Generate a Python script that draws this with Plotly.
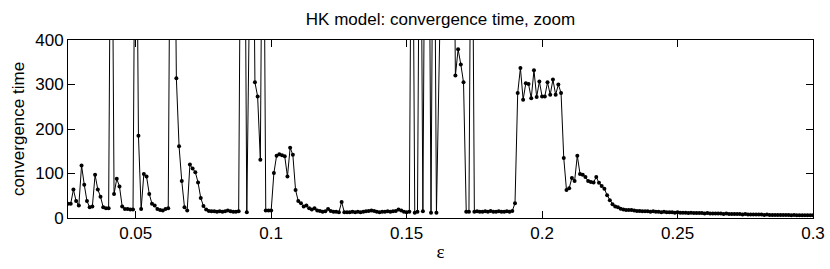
import plotly.graph_objects as go

# epsilon grid: 0.025 .. 0.300, step 0.001 (276 samples)
eps_start = 0.025
eps_step = 0.001

OFF = 1000  # values that leave the visible range (clipped at 400)

conv_time = [
    32, 32, 64, 38, 28, 118, 75, 38, 24, 26,            # 0.025-0.034
    97, 64, 48, 24, 22, 22, OFF, 54, 88, 71,            # 0.035-0.044
    26, 20, 20, 19, 19, OFF, 185, 20, 99, 93,           # 0.045-0.054
    54, 32, 28, 20, 18, 17, 20, 22, OFF, OFF,           # 0.055-0.064
    314, 161, 83, 24, 17, 120, 111, 103, 80, 45,        # 0.065-0.074
    27, 19, 16, 15, 15, 14, 15, 14, 15, 17,             # 0.075-0.084
    15, 14, 14, 15, OFF, OFF, 13, OFF, OFF, 305,        # 0.085-0.094
    273, 131, OFF, 17, 17, 17, 101, 140, 143, 141,      # 0.095-0.104
    139, 93, 158, 142, 63, 38, 33, 26, 28, 22,          # 0.105-0.114
    19, 22, 17, 16, 14, 15, 20, 16, 14, 14,             # 0.115-0.124
    13, 36, 13, 13, 13, 14, 13, 14, 13, 14,             # 0.125-0.134
    15, 16, 17, 16, 14, 13, 14, 14, 15, 14,             # 0.135-0.144
    15, 16, 19, 17, 14, 13, 14, OFF, 12, 14,            # 0.145-0.154
    OFF, 15, OFF, OFF, 12, OFF, 12, OFF, OFF, OFF,      # 0.155-0.164
    OFF, OFF, OFF, 320, 379, 345, 305, 14, 14, OFF,     # 0.165-0.174
    14, 15, 14, 14, 15, 14, 16, 14, 14, 15,             # 0.175-0.184
    14, 14, 15, 14, 16, 33, 281, 337, 266, 303,         # 0.185-0.194
    301, 269, 332, 272, 307, 273, 273, 305, 277, 311,   # 0.195-0.204
    277, 300, 281, 135, 63, 67, 90, 83, 140, 99,        # 0.205-0.214
    97, 92, 83, 81, 80, 92, 79, 72, 66, 51,             # 0.215-0.224
    40, 31, 26, 24, 21, 19, 18, 18, 18, 17,             # 0.225-0.234
    16, 16, 15, 15, 15, 14, 15, 14, 14, 13,             # 0.235-0.244
    14, 13, 13, 13, 12, 13, 12, 12, 12, 11,             # 0.245-0.254
    12, 11, 11, 11, 11, 10, 11, 10, 10, 10,             # 0.255-0.264
    10, 10, 9, 10, 9, 9, 9, 9, 9, 8,                    # 0.265-0.274
    9, 8, 8, 8, 8, 8, 8, 7, 8, 7,                       # 0.275-0.284
    7, 7, 7, 7, 7, 7, 7, 6, 7, 6,                       # 0.285-0.294
    6, 6, 6, 6, 6, 6,                                   # 0.295-0.300
]

eps = [round(eps_start + i * eps_step, 3) for i in range(len(conv_time))]

x_tick_vals = [0.05, 0.1, 0.15, 0.2, 0.25, 0.3]
x_tick_text = ["0.05", "0.1", "0.15", "0.2", "0.25", "0.3"]
y_tick_vals = [0, 100, 200, 300, 400]

title_text = "HK model: convergence time, zoom"
x_title = "ε"
y_title = "convergence time"

FONT = "Liberation Sans, Arial, sans-serif"

fig = go.Figure()
fig.add_trace(go.Scatter(
    x=eps, y=conv_time, mode="lines+markers",
    line=dict(color="black", width=1),
    marker=dict(color="black", size=4),
    showlegend=False,
))

axis_common = dict(
    showline=True, linecolor="black", linewidth=1, mirror="ticks",
    ticks="inside", ticklen=7, tickwidth=1, tickcolor="black",
    showgrid=False, zeroline=False, automargin=False,
    tickfont=dict(family=FONT, size=17, color="black"),
)

fig.update_layout(
    width=830, height=269,
    margin=dict(l=68, r=17, t=40, b=51),
    paper_bgcolor="white", plot_bgcolor="white",
    font=dict(family=FONT, size=17, color="black"),
    title=dict(text=title_text, x=0.5, xanchor="center", xref="paper",
               y=1 - 19.5 / 269, yref="container", yanchor="middle",
               font=dict(family=FONT, size=17, color="black")),
    xaxis=dict(range=[0.025, 0.3], tickvals=x_tick_vals, ticktext=x_tick_text,
               title=dict(text=x_title, standoff=2,
                          font=dict(family="Liberation Serif, serif", size=19)),
               **axis_common),
    yaxis=dict(range=[0, 400], tickvals=y_tick_vals,
               title=dict(text=y_title, standoff=6, font=dict(family=FONT, size=17)),
               **axis_common),
)

fig.write_html(
    "out.html",
    config={"displayModeBar": False},
    post_script="document.body.style.margin='0px';document.body.style.overflow='hidden';",
)
